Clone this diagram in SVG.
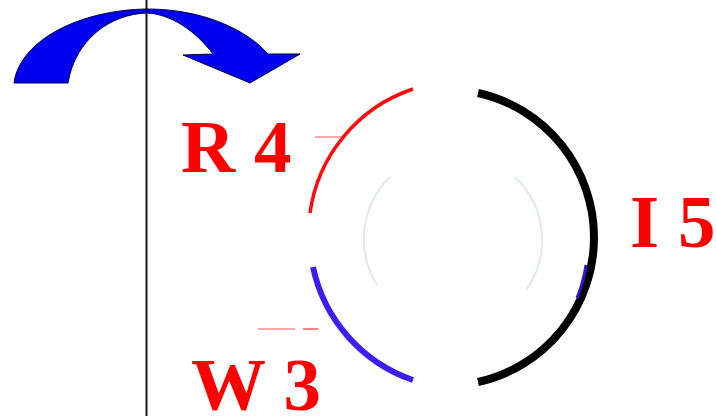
<svg xmlns="http://www.w3.org/2000/svg" width="716" height="416" viewBox="0 0 716 416">
<style>
.lbl{font-family:"Liberation Serif","Times New Roman",serif;font-weight:bold;font-size:75px;fill:#ff0000}
.arc{fill:none}
</style>
<rect width="716" height="416" fill="#ffffff"/>
<g id="rotation-arrow">
<path d="M 14 83 C 20 40, 80 10, 147 9 C 200 9, 245 28, 268 54 L 300 54 L 250 83 L 183 55 L 213 54 C 195 30, 170 14, 147 13 C 110 14, 75 40, 68 83 Z" fill="#0000f0" stroke="#00003a" stroke-width="1"/>
</g>
<g id="axis">
<line x1="146.5" y1="0" x2="146.5" y2="416" stroke="#151515" stroke-width="2"/>
</g>
<g id="ring">
<path class="arc" d="M 310 213 A 153 153 0 0 1 413 89" stroke="#ff0a0a" stroke-width="3.5"/>
<path class="arc" d="M 413 380 A 153 153 0 0 1 313 267" stroke="#3c1ef2" stroke-width="6"/>
<path class="arc" d="M 478 93 A 148 148 0 0 1 478 382" stroke="#000000" stroke-width="8"/>
<path class="arc" d="M 586 265 A 142.5 142.5 0 0 1 577 298" stroke="#2a18d0" stroke-width="3"/>
<path class="arc" d="M 390 177 A 87 87 0 0 0 377 285" stroke="#b8c8f2" stroke-width="2" opacity="0.45"/>
<path class="arc" d="M 515 177 A 87 87 0 0 1 527 289" stroke="#b0d0f0" stroke-width="2" opacity="0.45"/>
<line x1="315" y1="137" x2="341" y2="137" stroke="#ff8c8c" stroke-width="1.5"/>
<line x1="258" y1="329" x2="295" y2="329" stroke="#ffa8a8" stroke-width="2"/>
<line x1="303" y1="329" x2="318" y2="329" stroke="#ff8080" stroke-width="2"/>
</g>
<g id="label-r4"><text class="lbl" x="181" y="172">R 4</text></g>
<g id="label-i5"><text class="lbl" x="630" y="247">I 5</text></g>
<g id="label-w3"><text class="lbl" x="191" y="410">W 3</text></g>
</svg>
